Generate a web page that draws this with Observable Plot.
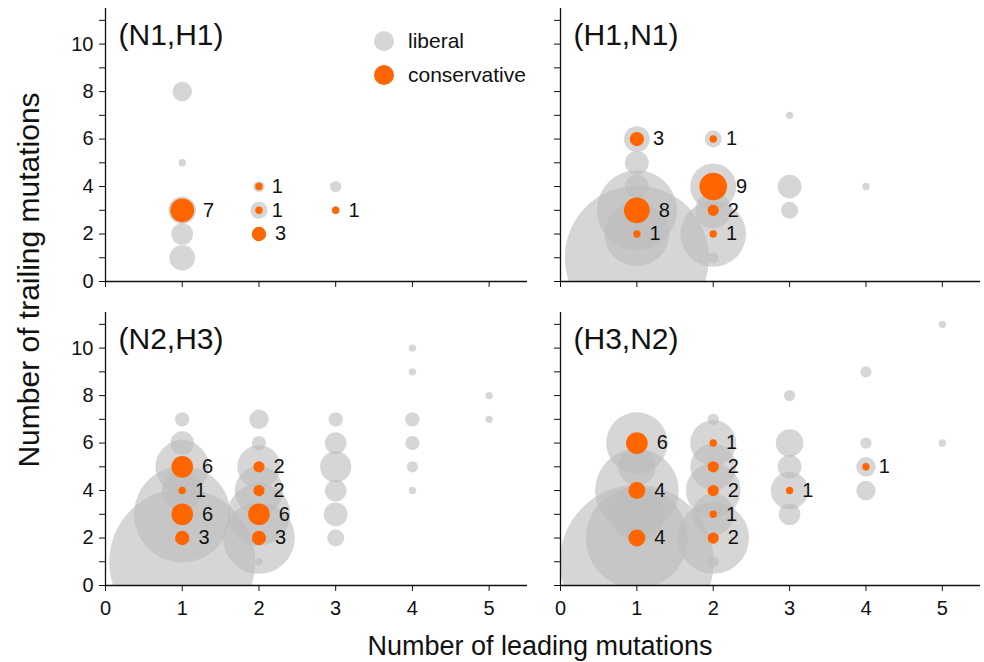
<!DOCTYPE html>
<html>
<head>
<meta charset="utf-8">
<script src="https://cdn.jsdelivr.net/npm/d3@7"></script>
<script src="https://cdn.jsdelivr.net/npm/@observablehq/plot@0.6"></script>
<style>
  body { margin: 0; background: #fff; }
  #fig { position: relative; width: 984px; height: 662px; font-family: "Liberation Sans", Arial, sans-serif; }
  .panel { position: absolute; }
  .panel svg { background: transparent !important; overflow: visible; }
  #overlay { position: absolute; left: 0; top: 0; pointer-events: none; }
</style>
</head>
<body>
<div id="fig"></div>
<script>
// ---- data: [leading, trailing, count] ----
const panelTitles = ["(N1,H1)", "(H1,N1)", "(N2,H3)", "(H3,N2)"];
const seriesNames = ["liberal", "conservative"];
const seriesColors = ["#bdbdbd", "#ff6600"];

const liberal_N1H1 = [[1,8,5],[1,5,1],[1,3,9],[1,2,6],[1,1,8],[2,4,2],[2,3,4],[2,2,3],[3,4,2],[3,3,1]];
const conservative_N1H1 = [[1,3,7],[2,4,1],[2,3,1],[2,2,3],[3,3,1]];

const liberal_H1N1 = [[1,6,8],[1,5,7],[1,4,7],[1,3,53],[1,2,37],[1,1,141],[2,6,4],[2,4,21],[2,3,14],[2,2,38],[2,1,2],[3,7,1],[3,4,7],[3,3,4],[4,4,1]];
const conservative_H1N1 = [[1,6,3],[1,3,8],[1,2,1],[2,6,1],[2,4,9],[2,3,2],[2,2,1]];

const liberal_N2H3 = [[1,7,3],[1,6,7],[1,5,27],[1,4,17],[1,3,72],[1,2,3],[1,1,144],[2,7,5],[2,6,3],[2,5,19],[2,4,23],[2,3,35],[2,2,44],[2,1,1],[3,7,3],[3,6,6],[3,5,11],[3,4,6],[3,3,7],[3,2,4],[4,10,1],[4,9,1],[4,7,3],[4,6,3],[4,5,2],[4,4,1],[5,8,1],[5,7,1]];
const conservative_N2H3 = [[1,5,6],[1,4,1],[1,3,6],[1,2,3],[2,5,2],[2,4,2],[2,3,6],[2,2,3]];

const liberal_H3N2 = [[1,6,34],[1,5,15],[1,4,57],[1,3,28],[1,2,79],[1,1,157],[2,7,2],[2,6,21],[2,5,21],[2,4,28],[2,3,18],[2,2,44],[2,1,2],[3,8,2],[3,6,9],[3,5,7],[3,4,15],[3,3,6],[4,9,2],[4,6,2],[4,5,5],[4,4,5],[5,11,1],[5,6,1]];
const conservative_H3N2 = [[1,6,6],[1,4,4],[1,2,4],[2,6,1],[2,5,2],[2,4,2],[2,3,1],[2,2,2],[3,4,1],[4,5,1]];

const xTicks = [0, 1, 2, 3, 4, 5];
const yTicks = [0, 1, 2, 3, 4, 5, 6, 7, 8, 9, 10, 11];
const yTickLabels = [0, 2, 4, 6, 8, 10];
const xLabel = "Number of leading mutations";
const yLabel = "Number of trailing mutations";

// ---- rendering ----
const toRows = arr => arr.map(([lead, trail, n]) => ({lead, trail, n}));
const R_EXP = 0.6, R_UNIT = 3.7;
const rPx = n => R_UNIT * Math.pow(n, R_EXP);
const narrow = "'Liberation Sans Narrow', 'Arial Narrow', 'Liberation Sans', sans-serif";
const regular = "'Liberation Sans', Arial, sans-serif";

const layout = [
  {left: 0,   top: 0,   width: 530, height: 310, mt: 8,  mb: 29, ml: 105, mr: 3, xl: false, yl: true},
  {left: 455, top: 0,   width: 529, height: 310, mt: 8,  mb: 29, ml: 105, mr: 4, xl: false, yl: false},
  {left: 0,   top: 300, width: 530, height: 330, mt: 12, mb: 45, ml: 105, mr: 3, xl: true,  yl: true},
  {left: 455, top: 300, width: 529, height: 330, mt: 12, mb: 45, ml: 105, mr: 4, xl: true,  yl: false}
];
const libData = [liberal_N1H1, liberal_H1N1, liberal_N2H3, liberal_H3N2];
const consData = [conservative_N1H1, conservative_H1N1, conservative_N2H3, conservative_H3N2];

const fig = document.getElementById("fig");

layout.forEach((L, i) => {
  const lib = toRows(libData[i]);
  const cons = toRows(consData[i]);
  const counts = Array.from(new Set(cons.map(d => d.n)));
  const labelMarks = counts.map(v => Plot.text(cons.filter(d => d.n === v), {
    x: "lead", y: "trail", text: d => String(d.n), dx: rPx(v) + 9,
    textAnchor: "start", fontSize: 20, fontFamily: regular, fill: "#111"
  }));
  const marks = [
    Plot.dot(lib, {x: "lead", y: "trail", r: "n", fill: seriesColors[0], fillOpacity: 0.62, clip: true}),
    Plot.dot(cons, {x: "lead", y: "trail", r: "n", fill: seriesColors[1], clip: true}),
    ...labelMarks,
    Plot.ruleX([0], {stroke: "#111", strokeWidth: 1.3}),
    Plot.ruleY([0], {stroke: "#111", strokeWidth: 1.3}),
    L.xl
      ? Plot.axisX(xTicks, {tickSize: 6, tickPadding: 9, label: null, fontSize: 20, fontFamily: narrow, stroke: "#111"})
      : Plot.axisX(xTicks, {tickSize: 6, fill: "none", label: null, stroke: "#111"}),
    Plot.axisY(yTicks, {tickSize: 6, fill: "none", label: null, stroke: "#111"}),
    L.yl ? Plot.axisY(yTickLabels, {tickSize: 0, tickPadding: 12, label: null, fontSize: 20, fontFamily: narrow}) : null,
    Plot.text([panelTitles[i]], {frameAnchor: "top-left", dx: 13, dy: 15, lineAnchor: "top", textAnchor: "start", fontSize: 30, fontFamily: regular, fill: "#111"})
  ].filter(Boolean);

  const chart = Plot.plot({
    width: L.width, height: L.height,
    marginLeft: L.ml, marginRight: L.mr, marginTop: L.mt, marginBottom: L.mb,
    x: {domain: [0, 5.5], axis: null},
    y: {domain: [0, 11.5], axis: null},
    r: {type: "pow", exponent: R_EXP, domain: [0, 200], range: [0, rPx(200)]},
    style: {fontFamily: narrow, fontSize: "19px", background: "transparent", color: "#111"},
    marks
  });
  const div = document.createElement("div");
  div.className = "panel";
  div.style.left = L.left + "px";
  div.style.top = L.top + "px";
  div.appendChild(chart);
  fig.appendChild(div);
});

// overlay: shared axis titles and legend
const ov = d3.select(fig).append("svg").attr("id", "overlay").attr("width", 984).attr("height", 662);
ov.append("text").attr("x", 540).attr("y", 655).attr("text-anchor", "middle")
  .attr("font-family", regular).attr("font-size", 27).attr("fill", "#111").text(xLabel);
ov.append("text").attr("transform", "translate(39,280) rotate(-90)").attr("text-anchor", "middle")
  .attr("font-family", regular).attr("font-size", 30).attr("fill", "#111").text(yLabel);

const legendColors = ["#d6d6d6", seriesColors[1]];
seriesNames.forEach((name, k) => {
  const cy = 41 + k * 34;
  ov.append("circle").attr("cx", 384).attr("cy", cy).attr("r", 10).attr("fill", legendColors[k]);
  ov.append("text").attr("x", 408).attr("y", cy + 7).attr("font-family", regular)
    .attr("font-size", 21).attr("fill", "#111").text(name);
});
</script>
</body>
</html>
